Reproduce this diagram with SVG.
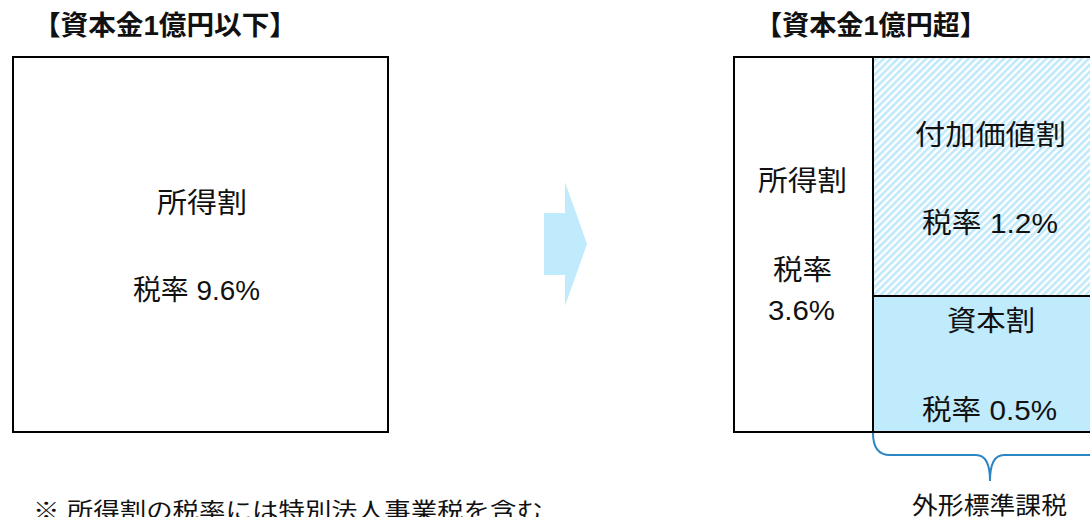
<svg xmlns="http://www.w3.org/2000/svg" width="1090" height="517" viewBox="0 0 1090 517">
<style>
text{font-family:"Liberation Sans","Noto Sans CJK JP",sans-serif;fill:#111;}
.t{font-size:28px;}
.h{font-size:27px;font-weight:bold;}
.n{font-size:22px;}
.box{stroke:#000;stroke-width:2;}
</style>
<defs>
<pattern id="hatch" width="5" height="5" patternUnits="userSpaceOnUse" patternTransform="rotate(45)">
<rect width="5" height="5" fill="#ffffff"/>
<rect width="2.6" height="5" fill="#bfe9fb"/>
</pattern>
</defs>
<rect width="1090" height="517" fill="#fff"/>
<g id="title-left"><text class="h" x="33" y="35" textLength="264" lengthAdjust="spacingAndGlyphs">【資本金1億円以下】</text></g>
<g id="title-right"><text class="h" x="755" y="35" textLength="232" lengthAdjust="spacingAndGlyphs">【資本金1億円超】</text></g>
<g id="left-box">
<rect class="box" x="13" y="57" width="375" height="375" fill="#fff"/>
<text class="t" x="157" y="213" textLength="90" lengthAdjust="spacingAndGlyphs">所得割</text>
<text class="t" x="133" y="300" textLength="127" lengthAdjust="spacingAndGlyphs">税率 9.6%</text>
</g>
<g id="arrow"><polygon points="544,213 565,213 565,182 587,244 565,306 565,275 544,275" fill="#bfebfd"/></g>
<g id="income-cell">
<rect class="box" x="734" y="57" width="139" height="375" fill="#fff"/>
<text class="t" x="758" y="191" textLength="89" lengthAdjust="spacingAndGlyphs">所得割</text>
<text class="t" x="773" y="280" textLength="59" lengthAdjust="spacingAndGlyphs">税率</text>
<text class="t" x="768" y="320" textLength="67" lengthAdjust="spacingAndGlyphs">3.6%</text>
</g>
<g id="value-added-cell">
<rect class="box" x="873" y="57" width="222" height="239" fill="url(#hatch)"/>
<text class="t" x="915" y="145" textLength="151" lengthAdjust="spacingAndGlyphs">付加価値割</text>
<text class="t" x="922" y="233" textLength="136" lengthAdjust="spacingAndGlyphs">税率 1.2%</text>
</g>
<g id="capital-cell">
<rect class="box" x="873" y="296" width="222" height="136" fill="#bfebfd"/>
<text class="t" x="947" y="331" textLength="88" lengthAdjust="spacingAndGlyphs">資本割</text>
<text class="t" x="922" y="420" textLength="135" lengthAdjust="spacingAndGlyphs">税率 0.5%</text>
</g>
<g id="connectors">
<path d="M873,433 Q873,455 890,455 L976,455 Q990,455 990,481 Q990,455 1004,455 L1095,455" fill="none" stroke="#2a86c4" stroke-width="2"/>
</g>
<g id="label-gaikei"><text class="n" x="912" y="514" textLength="155" lengthAdjust="spacingAndGlyphs" style="font-size:24px">外形標準課税</text></g>
<g id="footnote"><text class="n" x="33" y="518" textLength="510" lengthAdjust="spacingAndGlyphs">※ 所得割の税率には特別法人事業税を含む</text></g>
</svg>
